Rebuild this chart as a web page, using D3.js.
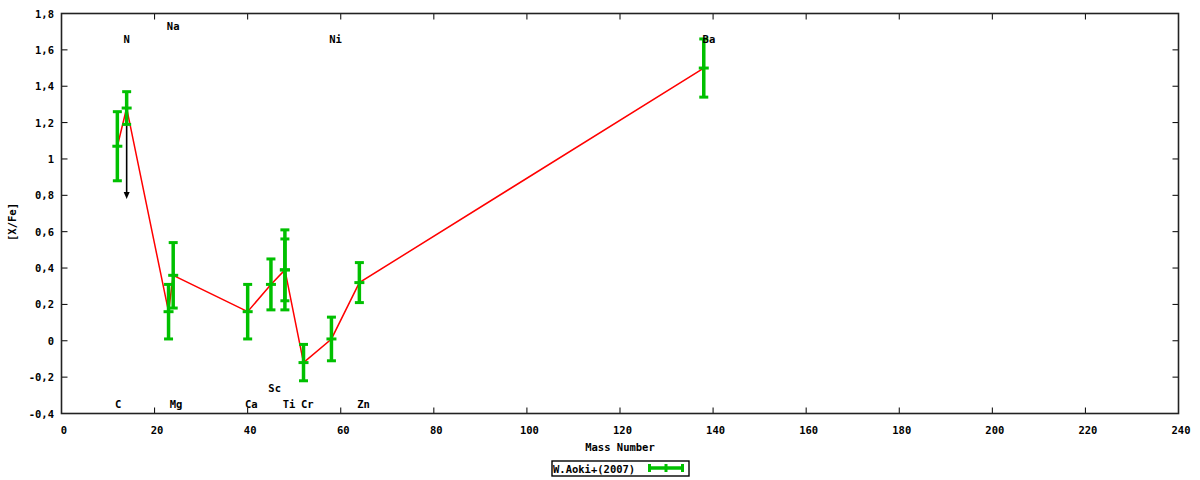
<!DOCTYPE html>
<html><head><meta charset="utf-8">
<script src="https://cdn.jsdelivr.net/npm/d3@7"></script>
<style>
body{margin:0;background:#fff;}
text{font-family:"DejaVu Sans Mono","Liberation Mono",monospace;font-weight:bold;font-size:10.5px;fill:#000;}
</style></head><body>
<svg id="c" width="1200" height="480"></svg>
<script>
// data
const massNumber = [12, 14, 23, 24, 40, 45, 48, 48, 52, 58, 64, 138];
const xfe        = [1.07, 1.28, 0.16, 0.36, 0.16, 0.31, 0.39, 0.39, -0.12, 0.01, 0.32, 1.50];
const err        = [0.19, 0.09, 0.15, 0.18, 0.15, 0.14, 0.22, 0.17, 0.10, 0.12, 0.11, 0.16];
const elemNames  = ["C","N","Na","Mg","Ca","Sc","Ti","Cr","Ni","Zn","Ba"];
const labelX     = [12.2, 14.0, 24.0, 24.6, 40.8, 45.8, 48.9, 52.8, 58.9, 64.9, 139.1];
const labelY     = [-0.35, 1.66, 1.73, -0.35, -0.35, -0.26, -0.35, -0.35, 1.66, -0.35, 1.66];
const xTicks = [0,20,40,60,80,100,120,140,160,180,200,220,240];
const yTicks = [-0.4,-0.2,0,0.2,0.4,0.6,0.8,1,1.2,1.4,1.6,1.8];
const arrowFrom = [14, 1.28], arrowTo = [14, 0.78];
const legendLabel = "W.Aoki+(2007)";

const svg = d3.select("#c");
const L=61.5, R=1178.5, T=13.5, B=413.5;
const x = d3.scaleLinear().domain([0,240]).range([L,R]);
const y = d3.scaleLinear().domain([-0.4,1.8]).range([B,T]);
const green="#00c000";

// ticks (mirrored, inward)
const tl=6;
const g=svg.append("g");
xTicks.forEach(t=>{
  g.append("line").attr("x1",x(t)).attr("x2",x(t)).attr("y1",B).attr("y2",B-tl).attr("stroke","#000");
  g.append("line").attr("x1",x(t)).attr("x2",x(t)).attr("y1",T).attr("y2",T+tl).attr("stroke","#000");
  g.append("text").attr("x",x(t)+2.5).attr("y",434).attr("text-anchor","middle").text(d3.format("d")(t));
});
yTicks.forEach(t=>{
  g.append("line").attr("x1",L).attr("x2",L+tl).attr("y1",y(t)).attr("y2",y(t)).attr("stroke","#000");
  g.append("line").attr("x1",R).attr("x2",R-tl).attr("y1",y(t)).attr("y2",y(t)).attr("stroke","#000");
  g.append("text").attr("x",54).attr("y",y(t)+4).attr("text-anchor","end").text(String(+t.toFixed(1)).replace(".",","));
});

// frame
svg.append("rect").attr("x",L).attr("y",T).attr("width",R-L).attr("height",B-T)
  .attr("fill","none").attr("stroke","#222").attr("stroke-width",1.6);

// axis titles
svg.append("text").attr("x",(L+R)/2).attr("y",451).attr("text-anchor","middle").text("Mass Number");
svg.append("text").attr("transform","translate(16,222) rotate(-90)").attr("text-anchor","middle").text("[X/Fe]");

// red line
const pts = massNumber.map((m,i)=>[m,xfe[i]]);
svg.append("path").datum(pts)
  .attr("d",d3.line().x(d=>x(d[0])).y(d=>y(d[1])))
  .attr("fill","none").attr("stroke","#ff0000").attr("stroke-width",1.5);

// arrow
svg.append("line").attr("x1",x(arrowFrom[0])).attr("x2",x(arrowTo[0]))
  .attr("y1",y(arrowFrom[1])).attr("y2",y(arrowTo[1])-6).attr("stroke","#000").attr("stroke-width",1.6);
svg.append("path").attr("d",`M${x(arrowTo[0])-3},${y(arrowTo[1])-7} L${x(arrowTo[0])+3},${y(arrowTo[1])-7} L${x(arrowTo[0])},${y(arrowTo[1])} Z`).attr("fill","#000");

// error bars
const cw=4.5;
const eb=svg.append("g").attr("stroke",green).attr("stroke-width",3.5);
massNumber.forEach((m,i)=>{
  const cx=x(m), y0=y(xfe[i]-err[i]), y1=y(xfe[i]+err[i]), yc=y(xfe[i]);
  eb.append("line").attr("x1",cx).attr("x2",cx).attr("y1",y0).attr("y2",y1);
  eb.append("line").attr("x1",cx-cw).attr("x2",cx+cw).attr("y1",y0).attr("y2",y0).attr("stroke-width",3);
  eb.append("line").attr("x1",cx-cw).attr("x2",cx+cw).attr("y1",y1).attr("y2",y1).attr("stroke-width",3);
  eb.append("line").attr("x1",cx-cw-0.5).attr("x2",cx+cw+0.5).attr("y1",yc).attr("y2",yc).attr("stroke-width",3);
});

// element labels
elemNames.forEach((n,i)=>{
  svg.append("text").attr("x",x(labelX[i])).attr("y",y(labelY[i])+4).attr("text-anchor","middle").text(n);
});

// legend
svg.append("rect").attr("x",552).attr("y",461).attr("width",137).attr("height",15)
  .attr("fill","#fff").attr("stroke","#000").attr("stroke-width",1.4);
svg.append("text").attr("x",553).attr("y",472.5).text(legendLabel);
const lg=svg.append("g").attr("stroke",green);
lg.append("line").attr("x1",648).attr("x2",684).attr("y1",468).attr("y2",468).attr("stroke-width",3.5);
lg.append("line").attr("x1",649.5).attr("x2",649.5).attr("y1",464).attr("y2",472).attr("stroke-width",3);
lg.append("line").attr("x1",682.5).attr("x2",682.5).attr("y1",464).attr("y2",472).attr("stroke-width",3);
lg.append("line").attr("x1",666).attr("x2",666).attr("y1",464).attr("y2",472).attr("stroke-width",3);
</script>
</body></html>
